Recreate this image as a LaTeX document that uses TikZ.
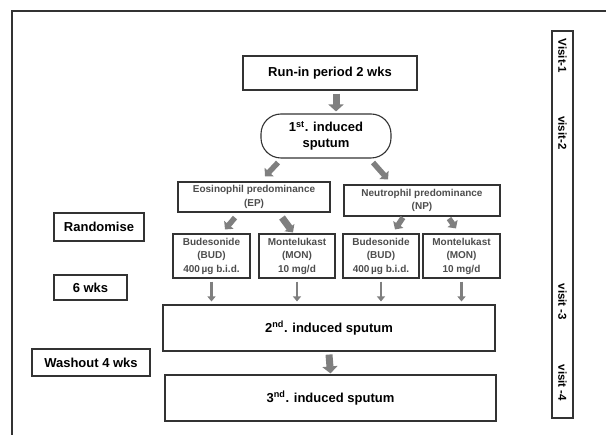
\documentclass[tikz,border=0pt]{standalone}
\usepackage{fontspec}
\setmainfont{Liberation Sans}
\usetikzlibrary{arrows.meta}
\usetikzlibrary{calc}

\definecolor{arrowgray}{HTML}{7F7F7F}
\definecolor{framegray}{HTML}{333333}
\definecolor{textgray}{HTML}{4D4D4D}

\tikzset{
  box/.style={draw=framegray, line width=1.1pt, inner sep=0pt, align=center,
    font=\bfseries\fontsize{13}{16}\selectfont},
  smallbox/.style={box, text=textgray, font=\bfseries\fontsize{10}{13.5}\selectfont},
  fat/.style={arrowgray, line width=7pt, -{Triangle[length=7pt, width=15pt]}},
  slim/.style={arrowgray, line width=5.5pt, -{Triangle[length=6pt, width=12pt]}},
  thin/.style={arrowgray, line width=2.5pt, -{Triangle[length=5pt, width=8pt]}},
  visit/.style={rotate=-90, font=\bfseries\fontsize{11.5}{13}\selectfont},
}

\begin{document}
\begin{tikzpicture}[x=1pt, y=-1pt]
  \useasboundingbox (0,0) rectangle (606,435);
  \draw[framegray, line width=1.2pt] (12,435) -- (12,11) -- (606,11);

  % main column
  \node[box, minimum width=174pt, minimum height=34pt] (runin) at (330,73) {Run-in period 2 wks};
  \node[box, rounded corners=20pt, minimum width=130pt, minimum height=44pt] (first) at (326,136)
    {1\textsuperscript{st}. induced\\sputum};
  \node[smallbox, minimum width=152pt, minimum height=30pt] (ep) at (254,197)
    {Eosinophil predominance\\(EP)};
  \node[smallbox, minimum width=156pt, minimum height=31pt] (np) at (422,200.5)
    {Neutrophil predominance\\(NP)};

  \node[smallbox, minimum width=77pt, minimum height=44pt] (bud1) at (211.5,256)
    {Budesonide\\(BUD)\\400\,µg b.i.d.};
  \node[smallbox, minimum width=76pt, minimum height=44pt] (mon1) at (297,256)
    {Montelukast\\(MON)\\10 mg/d};
  \node[smallbox, minimum width=76pt, minimum height=44pt] (bud2) at (381,256)
    {Budesonide\\(BUD)\\400\,µg b.i.d.};
  \node[smallbox, minimum width=77pt, minimum height=44pt] (mon2) at (461.5,256)
    {Montelukast\\(MON)\\10 mg/d};

  \node[box, minimum width=332pt, minimum height=46pt] (second) at (329,328)
    {2\textsuperscript{nd}. induced sputum};
  \node[box, minimum width=331pt, minimum height=46pt] (third) at (330.5,398)
    {3\textsuperscript{nd}. induced sputum};

  % left labels
  \node[box, minimum width=90pt, minimum height=28pt] (rand) at (99,227) {Randomise};
  \node[box, minimum width=73pt, minimum height=25pt] (six) at (90.5,287.5) {6 wks};
  \node[box, minimum width=118pt, minimum height=27pt] (wash) at (91,362.5) {Washout 4 wks};

  % visits
  \node[draw=framegray, line width=1.1pt, inner sep=0pt, minimum width=21pt, minimum height=387pt]
    (visits) at (562.5,224.5) {};
  \node[visit] (v1) at (562.5,56) {Visit-1};
  \node[visit] (v2) at (562.5,133) {visit-2};
  \node[visit] (v3) at (562.5,302) {visit -3};
  \node[visit] (v4) at (562.5,383) {visit -4};

  % arrows
  \draw[fat] ([xshift=6pt, yshift=-3pt]runin.south) -- ([xshift=10pt, yshift=2pt]first.north);
  \draw[slim] ([xshift=-48pt, yshift=-4pt]first.south) -- ([xshift=11pt, yshift=5pt]ep.north);
  \draw[slim] ([xshift=47pt, yshift=-4pt]first.south) -- ([xshift=-34pt, yshift=5pt]np.north);
  \draw[slim] ([xshift=-19pt, yshift=-5pt]ep.south) -- ([xshift=13.5pt, yshift=4pt]bud1.north);
  \draw[slim, line width=7pt] ([xshift=28pt, yshift=-5pt]ep.south) -- ([xshift=-4pt, yshift=1pt]mon1.north);
  \draw[slim] ([xshift=-19pt, yshift=-1pt]np.south) -- ([xshift=14pt, yshift=4pt]bud2.north);
  \draw[slim] ([xshift=27pt, yshift=-2pt]np.south) -- ([xshift=-5.5pt, yshift=5pt]mon2.north);
  \foreach \n in {bud1, mon1, bud2, mon2}
    \draw[thin] ([yshift=-3pt]\n.south) -- ($(\n.south |- second.north)+(0,-3)$);
  \draw[fat] ([yshift=-3pt]second.south) -- ([yshift=1pt]third.north);
\end{tikzpicture}
\end{document}
